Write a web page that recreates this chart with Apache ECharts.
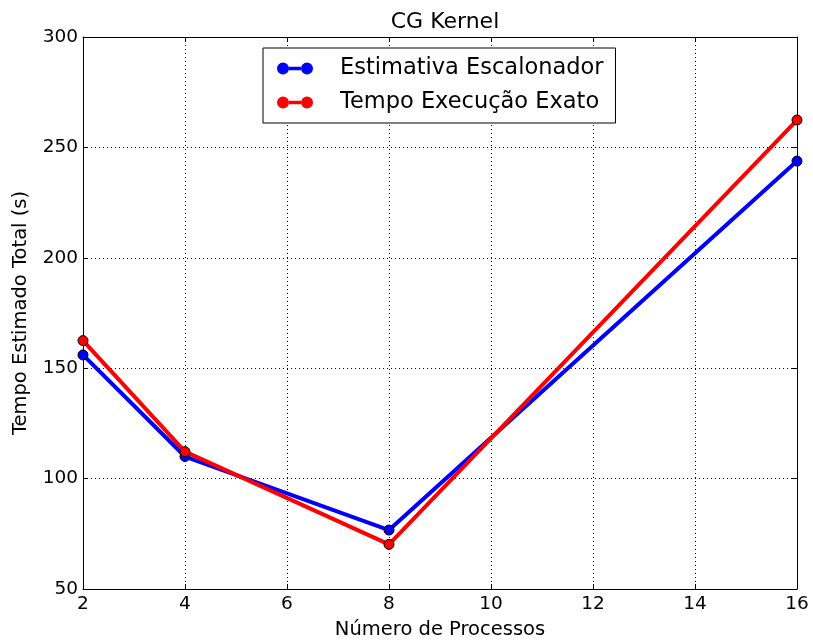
<!DOCTYPE html>
<html>
<head>
<meta charset="utf-8">
<script src="https://cdn.jsdelivr.net/npm/echarts@6/dist/echarts.min.js"></script>
<style>html,body{margin:0;padding:0;background:#fff}#c{width:813px;height:642px}</style>
</head>
<body>
<div id="c"></div>
<script>
const processos = [2, 4, 8, 16];
const estimativa = [156, 110, 76.7, 243.8];
const exato = [162.5, 112.2, 70.2, 262.4];
const seriesNames = ['Estimativa Escalonador', 'Tempo Execução Exato'];
const xTicks = {min: 2, max: 16, interval: 2};
const yTicks = {min: 50, max: 300, interval: 50};

const font = 'DejaVu Sans';
const icon = 'path://M0,6a6,6 0 1,0 12,0a6,6 0 1,0 -12,0z M12,4.2 L24,4.2 L24,7.8 L12,7.8z M24,6a6,6 0 1,0 12,0a6,6 0 1,0 -12,0z';
const chart = echarts.init(document.getElementById('c'), null, {renderer: 'canvas'});
const baseAxis = {
  axisLine: {show: true, lineStyle: {color: '#000', width: 1}},
  axisTick: {show: true, inside: true, length: 5, lineStyle: {color: '#000'}},
  splitLine: {show: false}
};
chart.setOption({
  animation: false,
  backgroundColor: '#fff',
  textStyle: {fontFamily: font, color: '#000'},
  title: {text: 'CG Kernel', left: 440, textAlign: 'center', top: 6,
    textStyle: {fontFamily: font, fontSize: 22, fontWeight: 'normal', color: '#000'}},
  grid: {left: 83, right: 16, top: 37, bottom: 53, containLabel: false, outerBoundsMode: 'none'},
  legend: {
    left: 263, top: 48, orient: 'vertical',
    backgroundColor: '#fff', borderColor: '#000', borderWidth: 1,
    padding: [9, 12, 9, 14], itemGap: 11, itemWidth: 36, itemHeight: 12,
    itemStyle: {borderWidth: 0},
    textStyle: {fontFamily: font, fontSize: 22.5, color: '#000', padding: [0, 0, 0, 22]},
    data: seriesNames.map(n => ({name: n, icon: icon}))
  },
  xAxis: [
    Object.assign({}, baseAxis, {type: 'value', position: 'bottom', min: xTicks.min, max: xTicks.max, interval: xTicks.interval,
      name: 'Número de Processos', nameLocation: 'middle', nameGap: 31,
      nameTextStyle: {fontFamily: font, fontSize: 19.5, color: '#000'},
      axisLabel: {fontFamily: font, fontSize: 18.5, color: '#000', margin: 6},
      splitLine: {show: true, lineStyle: {color: '#000', type: [1, 3], width: 1}}}),
    Object.assign({}, baseAxis, {type: 'value', position: 'top', min: xTicks.min, max: xTicks.max, interval: xTicks.interval,
      axisLabel: {show: false}})
  ],
  yAxis: [
    Object.assign({}, baseAxis, {type: 'value', position: 'left', min: yTicks.min, max: yTicks.max, interval: yTicks.interval,
      name: 'Tempo Estimado Total (s)', nameLocation: 'middle', nameGap: 52,
      nameTextStyle: {fontFamily: font, fontSize: 19.5, color: '#000'},
      axisLabel: {fontFamily: font, fontSize: 18.5, color: '#000', margin: 5},
      splitLine: {show: true, lineStyle: {color: '#000', type: [1, 3], width: 1}}}),
    Object.assign({}, baseAxis, {type: 'value', position: 'right', min: yTicks.min, max: yTicks.max, interval: yTicks.interval,
      axisLabel: {show: false}})
  ],
  series: [
    {name: seriesNames[0], type: 'line', xAxisIndex: 0, yAxisIndex: 0,
      data: processos.map((x, i) => [x, estimativa[i]]),
      symbol: 'circle', symbolSize: 10, color: '#0000ff',
      lineStyle: {width: 4, color: '#0000ff'},
      itemStyle: {color: '#0000ff', borderColor: '#000', borderWidth: 1}, z: 2},
    {name: seriesNames[1], type: 'line', xAxisIndex: 0, yAxisIndex: 0,
      data: processos.map((x, i) => [x, exato[i]]),
      symbol: 'circle', symbolSize: 10, color: '#ff0000',
      lineStyle: {width: 4, color: '#ff0000'},
      itemStyle: {color: '#ff0000', borderColor: '#000', borderWidth: 1}, z: 3}
  ]
});
</script>
</body>
</html>
